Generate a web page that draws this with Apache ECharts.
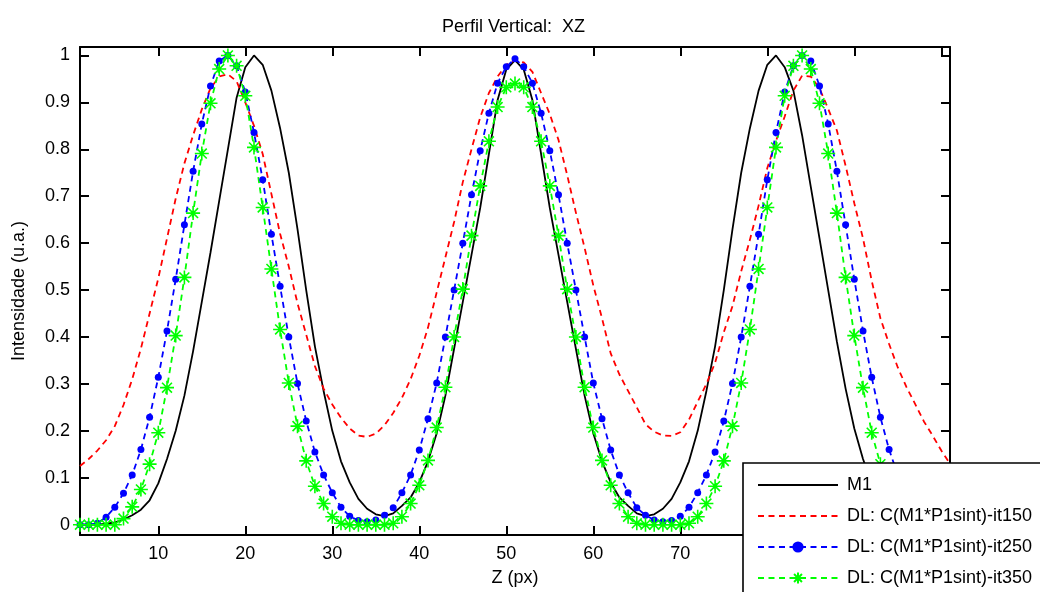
<!DOCTYPE html>
<html>
<head>
<meta charset="utf-8">
<script src="https://cdn.jsdelivr.net/npm/echarts@6/dist/echarts.min.js"></script>
<style>
html,body{margin:0;padding:0;background:#fff;}
#chart{width:1040px;height:592px;}
</style>
</head>
<body>
<div id="chart"></div>
<script>
const chartTitle = 'Perfil Vertical:  XZ';
const xName = 'Z (px)';
const yName = 'Intensidade (u.a.)';
const seriesNames = ['M1', 'DL: C(M1*P1sint)-it150', 'DL: C(M1*P1sint)-it250', 'DL: C(M1*P1sint)-it350'];

const zValues = [1,2,3,4,5,6,7,8,9,10,11,12,13,14,15,16,17,18,19,20,21,22,23,24,25,26,27,28,29,30,
  31,32,33,34,35,36,37,38,39,40,41,42,43,44,45,46,47,48,49,50,51,52,53,54,55,56,57,58,59,60,
  61,62,63,64,65,66,67,68,69,70,71,72,73,74,75,76,77,78,79,80,81,82,83,84,85,86,87,88,89,90,
  91,92,93,94,95,96,97,98,99,100,101];

const m1 = [0, 0, 0, 0.002, 0.005, 0.011, 0.02, 0.032, 0.052, 0.088,
  0.14, 0.2, 0.275, 0.37, 0.475, 0.58, 0.69, 0.8, 0.91, 0.975,
  1.0, 0.98, 0.925, 0.845, 0.75, 0.63, 0.5, 0.38, 0.285, 0.2,
  0.135, 0.09, 0.055, 0.034, 0.022, 0.018, 0.024, 0.04, 0.058, 0.09,
  0.135, 0.195, 0.275, 0.375, 0.475, 0.575, 0.675, 0.79, 0.905, 0.97,
  0.99,
  0.97, 0.905, 0.79, 0.675, 0.575, 0.475, 0.375, 0.275, 0.195,
  0.135, 0.09, 0.058, 0.04, 0.024, 0.018, 0.022, 0.034, 0.055, 0.09,
  0.135, 0.2, 0.285, 0.38, 0.5, 0.63, 0.75, 0.845, 0.925, 0.98,
  1.0, 0.975, 0.925, 0.83, 0.72, 0.61, 0.5, 0.39, 0.29, 0.205,
  0.14, 0.088, 0.052, 0.032, 0.02, 0.011, 0.005, 0.002, 0, 0,
  0];

const it150 = [0.125, 0.14, 0.158, 0.18, 0.21, 0.255, 0.31, 0.375, 0.45, 0.525,
  0.61, 0.695, 0.77, 0.83, 0.885, 0.93, 0.955, 0.96, 0.945, 0.9,
  0.85, 0.79, 0.705, 0.62, 0.55, 0.472, 0.405, 0.338, 0.29, 0.256,
  0.228, 0.205, 0.19, 0.187, 0.194, 0.212, 0.238, 0.27, 0.31, 0.36,
  0.42, 0.495, 0.57, 0.645, 0.73, 0.8, 0.868, 0.92, 0.955, 0.98,
  0.99,
  0.985, 0.965, 0.92, 0.875, 0.82, 0.745, 0.665, 0.59, 0.51,
  0.44, 0.365, 0.32, 0.285, 0.25, 0.214, 0.198, 0.19, 0.189, 0.197,
  0.224, 0.262, 0.3, 0.345, 0.41, 0.466, 0.54, 0.607, 0.68, 0.76,
  0.818, 0.87, 0.925, 0.957, 0.955, 0.93, 0.886, 0.84, 0.765, 0.685,
  0.61, 0.52, 0.44, 0.385, 0.335, 0.293, 0.257, 0.22, 0.19, 0.158,
  0.13];

const it250 = [0, 0, 0.003, 0.016, 0.037, 0.067, 0.106, 0.16, 0.229, 0.314,
  0.413, 0.523, 0.639, 0.753, 0.854, 0.935, 0.988, 1.0, 0.978, 0.922,
  0.836, 0.735, 0.619, 0.508, 0.4, 0.301, 0.221, 0.155, 0.106, 0.068,
  0.037, 0.018, 0.009, 0.006, 0.01, 0.02, 0.036, 0.068, 0.106, 0.159,
  0.226, 0.302, 0.4, 0.5, 0.6, 0.703, 0.797, 0.877, 0.941, 0.976,
  0.993,
  0.976, 0.941, 0.877, 0.797, 0.703, 0.6, 0.5, 0.4, 0.302,
  0.226, 0.159, 0.106, 0.068, 0.036, 0.02, 0.01, 0.006, 0.009, 0.018,
  0.037, 0.068, 0.106, 0.155, 0.221, 0.301, 0.4, 0.508, 0.619, 0.735,
  0.836, 0.922, 0.978, 1.0, 0.988, 0.935, 0.854, 0.753, 0.639, 0.523,
  0.413, 0.314, 0.229, 0.16, 0.106, 0.067, 0.037, 0.016, 0.003, 0,
  0];

const it350 = [0, 0, 0, 0, 0, 0.013, 0.038, 0.075, 0.129, 0.196,
  0.292, 0.403, 0.527, 0.664, 0.791, 0.898, 0.971, 1.0, 0.978, 0.914,
  0.804, 0.676, 0.545, 0.416, 0.302, 0.21, 0.136, 0.082, 0.045, 0.017,
  0.003, 0, 0, 0, 0, 0, 0.003, 0.017, 0.045, 0.084,
  0.137, 0.207, 0.293, 0.4, 0.502, 0.616, 0.722, 0.817, 0.89, 0.932,
  0.94,
  0.932, 0.89, 0.817, 0.722, 0.616, 0.502, 0.4, 0.293, 0.207,
  0.137, 0.084, 0.045, 0.017, 0.003, 0, 0, 0, 0, 0,
  0.003, 0.017, 0.045, 0.082, 0.136, 0.21, 0.302, 0.416, 0.545, 0.676,
  0.804, 0.914, 0.978, 1.0, 0.971, 0.898, 0.791, 0.664, 0.527, 0.403,
  0.292, 0.196, 0.129, 0.075, 0.038, 0.013, 0, 0, 0, 0,
  0];

const xTicks = [10, 20, 30, 40, 50, 60, 70, 80, 90, 100];
const yTicks = [0, 0.1, 0.2, 0.3, 0.4, 0.5, 0.6, 0.7, 0.8, 0.9, 1];

const FONT = '"Liberation Sans", Arial, sans-serif';
const pair = ys => zValues.map((z, i) => [z, ys[i]]);
const starPath = 'path://M10,0L10,20M0,10L20,10M2.93,2.93L17.07,17.07M17.07,2.93L2.93,17.07';

const chart = echarts.init(document.getElementById('chart'), null, {renderer: 'canvas'});

const axisLineStyle = {color: '#000', width: 2};
const baseX = {
  type: 'value', min: 1, max: 101,
  axisLine: {show: true, onZero: false, lineStyle: axisLineStyle},
  splitLine: {show: false},
  axisTick: {show: true, inside: true, length: 9, customValues: xTicks, lineStyle: {color: '#000', width: 2}},
};
const baseY = {
  type: 'value', min: -0.022, max: 1.018,
  axisLine: {show: true, onZero: false, lineStyle: axisLineStyle},
  splitLine: {show: false},
  axisTick: {show: true, inside: true, length: 9, customValues: yTicks, lineStyle: {color: '#000', width: 2}},
};

const option = {
  animation: false,
  backgroundColor: '#fff',
  title: {
    text: chartTitle, left: 437, top: 13,
    textStyle: {fontFamily: FONT, fontSize: 18, fontWeight: 'normal', color: '#000'}
  },
  grid: {left: 80, top: 47, width: 870, height: 488, containLabel: false},
  xAxis: [
    Object.assign({}, baseX, {
      position: 'bottom',
      name: xName, nameLocation: 'middle', nameGap: 34,
      nameTextStyle: {fontFamily: FONT, fontSize: 18, color: '#000'},
      axisLabel: {show: true, customValues: xTicks, margin: 10, fontFamily: FONT, fontSize: 18, color: '#000'}
    }),
    Object.assign({}, baseX, {position: 'top', axisLabel: {show: false}})
  ],
  yAxis: [
    Object.assign({}, baseY, {
      position: 'left',
      name: yName, nameLocation: 'middle', nameGap: 52, nameRotate: 90,
      nameTextStyle: {fontFamily: FONT, fontSize: 18, color: '#000'},
      axisLabel: {show: true, customValues: yTicks, margin: 10, fontFamily: FONT, fontSize: 18, color: '#000'}
    }),
    Object.assign({}, baseY, {position: 'right', axisLabel: {show: false}})
  ],
  legend: {
    orient: 'vertical', left: 743, top: 463, width: 330, height: 150,
    itemWidth: 80, itemHeight: 14, itemGap: 13,
    padding: [13, 40, 20, 14],
    backgroundColor: '#fff', borderColor: '#000', borderWidth: 1.6,
    selectedMode: false,
    textStyle: {fontFamily: FONT, fontSize: 18, color: '#000', padding: [0, 0, 0, 4]},
    data: [
      {name: seriesNames[0], itemStyle: {opacity: 0}},
      {name: seriesNames[1], itemStyle: {opacity: 0}},
      {name: seriesNames[2]},
      {name: seriesNames[3]}
    ]
  },
  series: [
    {
      name: seriesNames[0], type: 'line', data: pair(m1),
      symbol: 'none', lineStyle: {color: '#000', width: 1.8}, itemStyle: {color: '#000'}
    },
    {
      name: seriesNames[1], type: 'line', data: pair(it150),
      symbol: 'none', lineStyle: {color: '#ff0000', width: 1.8, type: [6, 4.5]}, itemStyle: {color: '#ff0000'}
    },
    {
      name: seriesNames[2], type: 'line', data: pair(it250),
      symbol: 'circle', symbolSize: 7, showAllSymbol: true,
      lineStyle: {color: '#0000ff', width: 1.8, type: [6, 4.5]}, itemStyle: {color: '#0000ff'}
    },
    {
      name: seriesNames[3], type: 'line', data: pair(it350),
      symbol: starPath, symbolSize: 14, showAllSymbol: true,
      lineStyle: {color: '#00ff00', width: 1.8, type: [6, 4.5]},
      itemStyle: {color: '#00ff00', borderColor: '#00ff00', borderWidth: 1.6}
    }
  ]
};
chart.setOption(option);
</script>
</body>
</html>
